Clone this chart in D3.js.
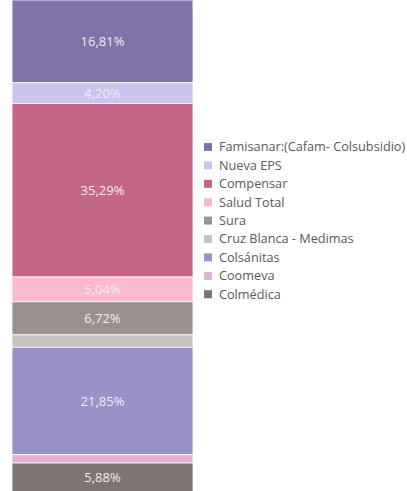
<!DOCTYPE html>
<html>
<head>
<meta charset="utf-8">
<script src="https://cdn.jsdelivr.net/npm/d3@7"></script>
<style>
  body { margin: 0; background: #fff; }
  svg { display: block; }
</style>
</head>
<body>
<div id="chart"></div>
<script>
// series, top of the stack first
var names = ['Famisanar:(Cafam- Colsubsidio)', 'Nueva EPS', 'Compensar', 'Salud Total', 'Sura',
             'Cruz Blanca - Medimas', 'Colsánitas', 'Coomeva', 'Colmédica'];
var values = [16.81, 4.20, 35.29, 5.04, 6.72, 2.52, 21.85, 1.68, 5.88];
var labels = ['16,81%', '4,20%', '35,29%', '5,04%', '6,72%', '', '21,85%', '', '5,88%'];
var colors = ['#8073a8', '#c9c3ee', '#c46686', '#fbb8cf', '#9b9290',
              '#c6c2bf', '#9b91c9', '#deb3d6', '#7e7473'];

var config = {
    width: 407,
    height: 491,
    barLeft: 12,
    barRight: 193,
    barTop: 0,
    barBottom: 492,
    legendX: 204,
    legendTop: 138,
    legendStep: 18.4,
    font: '"Open Sans", "Liberation Sans", sans-serif'
};

var svg = d3.select('#chart').append('svg')
    .attr('width', config.width)
    .attr('height', config.height);

var x = d3.scaleBand().domain(['total']).range([config.barLeft, config.barRight]).padding(0);
var y = d3.scaleLinear().domain([0, 100]).range([config.barTop, config.barBottom]);

// cumulative start of each segment
var data = [];
var acc = 0;
for (var i = 0; i < values.length; i++) {
    data.push({ name: names[i], value: values[i], label: labels[i], color: colors[i], y0: acc, y1: acc + values[i] });
    acc += values[i];
}

var bar = svg.append('g');

bar.selectAll('rect.seg')
    .data(data)
    .enter().append('rect')
    .classed('seg', true)
    .attr('x', x('total'))
    .attr('width', x.bandwidth())
    .attr('y', function(d) { return y(d.y0); })
    .attr('height', function(d) { return y(d.y1) - y(d.y0); })
    .attr('fill', function(d) { return d.color; })
    .attr('stroke', '#ffffff')
    .attr('stroke-width', 0.8);

bar.selectAll('text.lbl')
    .data(data.filter(function(d) { return d.label; }))
    .enter().append('text')
    .classed('lbl', true)
    .attr('x', x('total') + x.bandwidth() / 2)
    .attr('y', function(d) { return (y(d.y0) + y(d.y1)) / 2; })
    .attr('dy', '0.35em')
    .attr('text-anchor', 'middle')
    .style('font-family', config.font)
    .style('font-size', '13px')
    .style('fill', '#eeeeee')
    .text(function(d) { return d.label; });

// legend
var ly = d3.scalePoint().domain(names).range([config.legendTop + 9, config.legendTop + 9 + config.legendStep * (names.length - 1)]);

var legend = svg.append('g');
var items = legend.selectAll('g.item')
    .data(data)
    .enter().append('g')
    .classed('item', true)
    .attr('transform', function(d) { return 'translate(' + config.legendX + ',' + ly(d.name) + ')'; });

items.append('rect')
    .attr('x', 0)
    .attr('y', -4)
    .attr('width', 8)
    .attr('height', 8)
    .attr('fill', function(d) { return d.color; });

items.append('text')
    .attr('x', 15)
    .attr('y', 0)
    .attr('dy', '0.35em')
    .style('font-family', config.font)
    .style('font-size', '12.7px')
    .style('fill', '#595959')
    .text(function(d) { return d.name; });
</script>
</body>
</html>
